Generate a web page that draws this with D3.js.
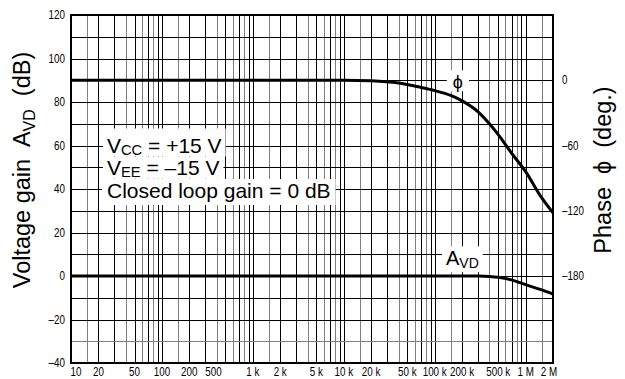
<!DOCTYPE html>
<html>
<head>
<meta charset="utf-8">
<script src="https://cdn.jsdelivr.net/npm/d3@7"></script>
<style>
  body { margin: 0; background: #fff; }
  svg { display: block; }
  .tick-label { font-family: "Liberation Sans", Arial, Helvetica, sans-serif; font-size: 12px; fill: #000; }
  .big { font-family: "Liberation Sans", Arial, Helvetica, sans-serif; fill: #000; white-space: pre; }
</style>
</head>
<body>
<svg width="625" height="379"></svg>
<script>
// x axis (frequency, Hz)
const freqTicks = [10, 20, 50, 100, 200, 500, 1e3, 2e3, 5e3, 1e4, 2e4, 5e4, 1e5, 2e5, 5e5, 1e6, 2e6];
const freqLabels = ['10', '20', '50', '100', '200', '500', '1 k', '2 k', '5 k', '10 k', '20 k', '50 k', '100 k', '200 k', '500 k', '1 M', '2 M'];
// left axis (dB) and right axis (deg)
const gainTicks = [-40, -20, 0, 20, 40, 60, 80, 100, 120];
const phaseTicks = [0, -60, -120, -180];

// A_VD curve
const gainFreq = [10, 1e5, 3e5, 4e5, 5e5, 7e5, 1e6, 1.5e6, 2e6];
const gainDb = [0, 0, 0, -0.2, -0.6, -1.8, -4.0, -6.4, -8.3];

// phase curve
const phaseFreq = [10, 1e4, 2e4, 4e4, 7e4, 1e5, 1.5e5, 2e5, 3e5, 4e5, 5e5, 7e5, 1e6, 1.5e6, 2e6];
const phaseDeg = [0, 0, -0.5, -2.5, -6.5, -9.5, -14, -19, -29, -40, -50, -67, -84, -108, -122];

window.onload = function() {
  setupChart();
}

function setupChart() {
  let svg = d3.select('svg');
  let left = 71, right = 553, top = 15, bottom = 363;

  let x = d3.scaleLog().domain([10, 2e6]).range([left, right]);
  let y = d3.scaleLinear().domain([-40, 120]).range([bottom, top]);
  // phase 0 deg sits on 90 dB, -180 deg on 0 dB
  let yPhase = d3.scaleLinear().domain([-180, 0]).range([y(0), y(90)]);

  let snap = v => Math.round(v) + 0.5;

  // grid
  let grid = svg.append('g');
  let mults = [1, 1.5, 2, 3, 4, 5, 6, 7, 8, 9];
  let greyMults = [1.5, 4, 6, 8];
  let vLines = [];
  for (let dec = 10; dec <= 1e6; dec *= 10) {
    mults.forEach(m => {
      let f = dec * m;
      if (f > 10 && f < 2e6) vLines.push({ f: f, grey: greyMults.indexOf(m) >= 0 });
    });
  }
  grid.selectAll('.vl')
    .data(vLines)
    .enter().append('line')
    .attr('x1', d => snap(x(d.f))).attr('x2', d => snap(x(d.f)))
    .attr('y1', top).attr('y2', bottom)
    .attr('stroke', d => d.grey ? '#808080' : '#000')
    .attr('stroke-width', 1);

  let hLines = d3.range(-30, 120, 10);
  grid.selectAll('.hl')
    .data(hLines)
    .enter().append('line')
    .attr('x1', left).attr('x2', right)
    .attr('y1', d => snap(y(d))).attr('y2', d => snap(y(d)))
    .attr('stroke', d => d === -30 ? '#808080' : '#000')
    .attr('stroke-width', 1);

  // white boxes behind the notes go first, texts on top
  let boxLayer = svg.append('g');
  let textLayer = svg.append('g');
  function boxedText(px, py, parts, size, opt) {
    opt = opt || {};
    let t = textLayer.append('text')
      .attr('class', 'big')
      .attr('x', px).attr('y', py)
      .attr('text-anchor', opt.anchor || 'start')
      .style('font-size', size + 'px');
    let drop = size * 0.13, shift = 0;
    parts.forEach(p => {
      let ts = t.append('tspan').text(p.t);
      if (p.sub) {
        ts.style('font-size', (size * 0.7) + 'px').attr('dy', drop - shift);
        shift = drop;
      } else if (shift) {
        ts.attr('dy', -shift);
        shift = 0;
      }
    });
    let b = t.node().getBBox();
    let pad = opt.pad == null ? 4 : opt.pad;
    boxLayer.append('rect')
      .attr('x', b.x - pad).attr('y', py - opt.up)
      .attr('width', b.width + pad * 2).attr('height', opt.up + opt.down)
      .attr('fill', '#fff');
  }
  // baselines sit a little below each grid line
  boxedText(107, y(60) + 7, [{ t: 'V' }, { t: 'CC', sub: true }, { t: ' = +15 V' }], 21, { up: 24, down: 4 });
  boxedText(107, y(50) + 7.5, [{ t: 'V' }, { t: 'EE', sub: true }, { t: ' = –15 V' }], 21, { up: 18, down: 4 });
  boxedText(107, y(40) + 8.5, [{ t: 'Closed loop gain = 0 dB' }], 21, { up: 18.5, down: 7.5, pad: 5 });
  boxedText(446, y(10) + 11, [{ t: 'A' }, { t: 'VD', sub: true }], 20, { up: 19, down: 7, pad: 4 });
  boxedText(x(1.8e5), y(90) + 8, [{ t: 'ϕ' }], 18, { anchor: 'middle', up: 18, down: 3, pad: 6 });

  // curves
  let makeLine = d3.line()
    .curve(d3.curveMonotoneX)
    .x(d => x(d.f))
    .y(d => d.y);

  let gainPts = gainFreq.map((f, i) => ({ f: f, y: y(gainDb[i]) }));
  let phasePts = phaseFreq.map((f, i) => ({ f: f, y: yPhase(phaseDeg[i]) }));

  svg.append('path')
    .attr('d', makeLine(gainPts))
    .attr('fill', 'none').attr('stroke', '#000').attr('stroke-width', 3);
  svg.append('path')
    .attr('d', makeLine(phasePts))
    .attr('fill', 'none').attr('stroke', '#000').attr('stroke-width', 3);

  // frame
  svg.append('rect')
    .attr('x', left).attr('y', top)
    .attr('width', right - left).attr('height', bottom - top)
    .attr('fill', 'none').attr('stroke', '#000').attr('stroke-width', 2);

  // narrow tick labels: regular sans squeezed horizontally
  let squeeze = 0.82;
  let fmt = d => d < 0 ? '–' + Math.abs(d) : String(d);

  let gl = svg.append('g');
  gainTicks.forEach(d => {
    gl.append('text')
      .attr('class', 'tick-label')
      .attr('transform', 'translate(' + (left - 6) + ',' + y(d) + ') scale(' + squeeze + ',1)')
      .attr('dy', '0.35em')
      .attr('text-anchor', 'end')
      .text(fmt(d));
  });

  let pl = svg.append('g');
  phaseTicks.forEach(d => {
    pl.append('text')
      .attr('class', 'tick-label')
      .attr('transform', 'translate(' + (right + 9) + ',' + yPhase(d) + ') scale(' + squeeze + ',1)')
      .attr('dy', '0.35em')
      .attr('text-anchor', 'start')
      .text(fmt(d));
  });

  let fl = svg.append('g');
  freqTicks.forEach((d, i) => {
    let px = x(d);
    if (i === 0) px += 5;
    if (i === freqTicks.length - 1) px -= 4;
    if (d === 500) px -= 12;
    fl.append('text')
      .attr('class', 'tick-label')
      .attr('transform', 'translate(' + px + ',' + (bottom + 9) + ') scale(' + squeeze + ',1)')
      .attr('dy', '0.35em')
      .attr('text-anchor', 'middle')
      .text(freqLabels[i]);
  });

  // axis titles
  let yt = svg.append('text')
    .attr('class', 'big')
    .attr('transform', 'translate(30,170) rotate(-90)')
    .attr('text-anchor', 'middle')
    .style('font-size', '23.5px');
  yt.append('tspan').text('Voltage gain  A');
  yt.append('tspan').text('VD').style('font-size', '16px').attr('dy', 5);
  yt.append('tspan').text('  (dB)').attr('dy', -5);

  svg.append('text')
    .attr('class', 'big')
    .attr('transform', 'translate(611,170) rotate(-90)')
    .attr('text-anchor', 'middle')
    .style('font-size', '23.5px')
    .text('Phase  ϕ  (deg.)');
}
</script>
</body>
</html>
